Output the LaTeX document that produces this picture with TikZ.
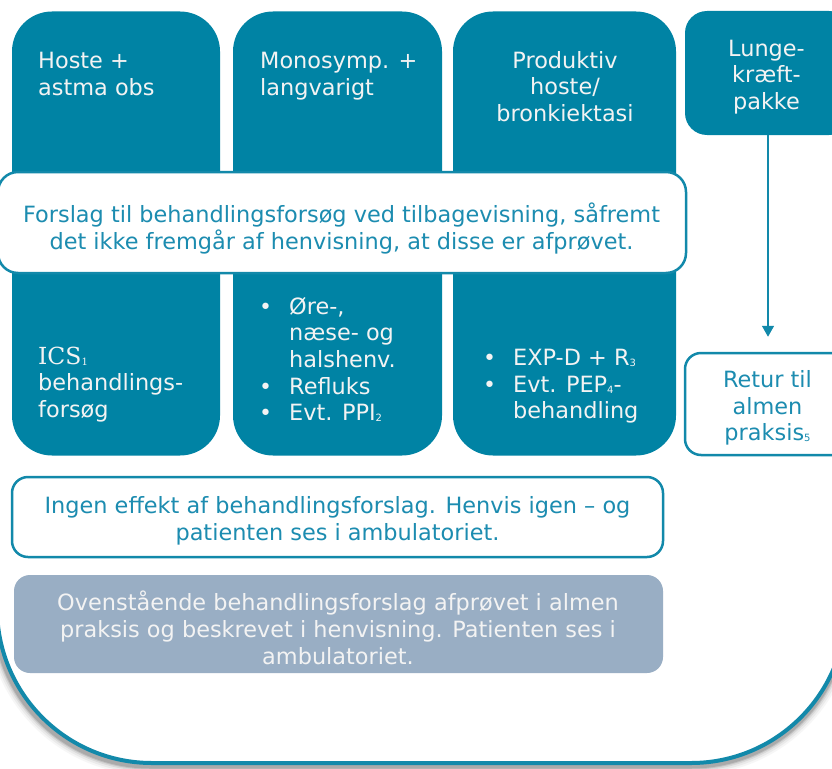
\documentclass[tikz,border=0pt]{standalone}
\usepackage{fontspec}
\setmainfont{DejaVu Sans}
\newfontfamily\serifICS{DejaVu Serif}
\usetikzlibrary{arrows.meta}
\definecolor{boxteal}{RGB}{0,131,164}
\definecolor{lineteal}{RGB}{18,137,170}
\definecolor{textteal}{RGB}{28,140,176}
\definecolor{grayfill}{RGB}{153,174,196}
\definecolor{whitetext}{RGB}{243,243,243}
\newcommand{\subnum}[1]{\raisebox{-1pt}{\fontsize{10}{10}\selectfont #1}}
\newcommand{\bulitem}{\makebox[30pt][l]{\fontsize{22}{22}\selectfont •}}
\newcommand{\indline}{\hspace*{30pt}}
\begin{document}
\begin{tikzpicture}[x=1pt,y=-1pt,
  col/.style={fill=boxteal, rounded corners=40pt, inner sep=0pt, draw=none},
  wbox/.style={fill=white, draw=lineteal, line width=2.5pt, inner sep=0pt},
  lbl/.style={font=\fontsize{22.4}{26.6}\selectfont, inner sep=0pt, text=whitetext},
  tlbl/.style={lbl, text=textteal},
  frame/.style={rounded corners=155pt}
]
\useasboundingbox (0,0) rectangle (832,768);
\clip (0,0) rectangle (832,768);
\fill[white] (0,0) rectangle (832,768);
% outer frame with shadow
\foreach \w/\o in {18/0.06, 14/0.09, 10/0.14, 7/0.22, 5/0.3} {
  \draw[black!55, line width=\w pt, opacity=\o, frame] (-5,-400) -- (-5,766) -- (846,766) -- (846,-400);
}
\draw[lineteal, line width=4pt, fill=white, frame] (-3,-400) -- (-3,763) -- (846,763) -- (846,-400);
% columns
\node[col, minimum width=208pt, minimum height=444pt] (c1) at (116,233.5) {};
\node[col, minimum width=209pt, minimum height=444pt] (c2) at (337.5,233.5) {};
\node[col, minimum width=223pt, minimum height=444pt] (c3) at (564.5,233.5) {};
\node[col, rounded corners=22pt, minimum width=166pt, minimum height=124pt] (lunge) at (768,73) {};
\node[wbox, rounded corners=16pt, minimum width=170pt, minimum height=102pt] (retur) at (770,404) {};
\draw[lineteal, line width=1.5pt, -{Triangle[width=12pt,length=11pt]}, shorten >=15pt] (lunge.south) -- (lunge.south |- retur.north);
% horizontal boxes
\node[wbox, rounded corners=20pt, minimum width=688pt, minimum height=101pt] (forslag) at (342,222.5) {};
\node[wbox, rounded corners=16pt, minimum width=651pt, minimum height=80pt] (ingen) at (337.5,517) {};
\node[fill=grayfill, rounded corners=16pt, minimum width=649pt, minimum height=98pt, inner sep=0pt] (prior) at (338.5,624) {};
% texts
\node[lbl, anchor=north west, align=left] (t1) at (38,52) {Hoste +\\astma obs};
\node[lbl, anchor=north west, align=left] (t2) at (260,52) {Monosymp. +\\langvarigt};
\node[lbl, anchor=north, align=center] (t3) at (565,51) {Produktiv\\hoste/\\bronkiektasi};
\node[lbl, anchor=north, align=center] (t4) at (766.5,39.5) {Lunge-\\kræft-\\pakke};
\node[tlbl, anchor=north, align=center] (t5) at (341.5,203) {Forslag til behandlingsforsøg ved tilbagevisning, såfremt\\det ikke fremgår af henvisning, at disse er afprøvet.};
\node[lbl, anchor=north west, align=left] (t6) at (38,346.5) {\serifICS\fontsize{23.5}{26.6}\selectfont ICS\subnum{1}\\behandlings-\\forsøg};
\node[lbl, anchor=north west, align=left] (t7) at (259,297) {\bulitem Øre-,\\\indline næse- og\\\indline halshenv.\\\bulitem Refluks\\\bulitem Evt. PPI\subnum{2}};
\node[lbl, anchor=north west, align=left] (t8) at (483,349) {\bulitem EXP-D + R\subnum{3}\\\bulitem Evt. PEP\subnum{4}-\\\indline behandling};
\node[tlbl, anchor=north, align=center] (t9) at (767.5,370.5) {Retur til\\almen\\praksis\subnum{5}};
\node[tlbl, anchor=north, align=center] (t10) at (337.5,496.5) {Ingen effekt af behandlingsforslag. Henvis igen – og\\patienten ses i ambulatoriet.};
\node[lbl, anchor=north, align=center] (t11) at (338,591) {Ovenstående behandlingsforslag afprøvet i almen\\praksis og beskrevet i henvisning. Patienten ses i\\ambulatoriet.};
\end{tikzpicture}
\end{document}
